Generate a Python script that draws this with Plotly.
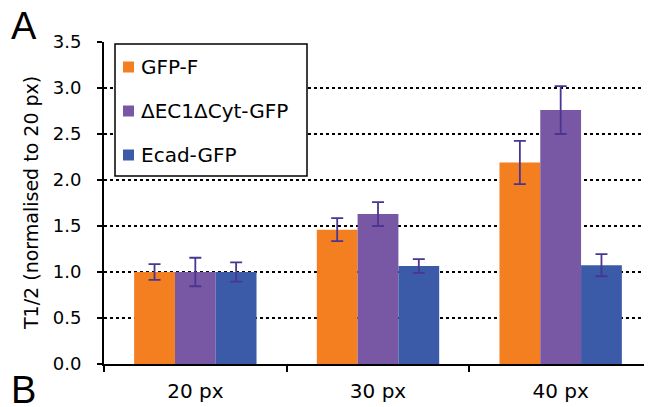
import plotly.graph_objects as go

categories = ["20 px", "30 px", "40 px"]
series_names = ["GFP-F", "ΔEC1ΔCyt-GFP", "Ecad-GFP"]
gfp_f = [1.00, 1.46, 2.19]
gfp_f_err = [0.085, 0.125, 0.235]
dec1 = [1.00, 1.63, 2.76]
dec1_err = [0.155, 0.13, 0.26]
ecad = [1.00, 1.066, 1.074]
ecad_err = [0.105, 0.075, 0.12]
colors = ["#F47F20", "#7857A4", "#3B5BA8"]
y_ticks = [0.0, 0.5, 1.0, 1.5, 2.0, 2.5, 3.0, 3.5]

FONT = "DejaVu Sans, Arial, sans-serif"
FONT_LETTER = "Liberation Sans, Arial, sans-serif"
ERR_COLOR = "#4A3690"

fig = go.Figure()
for name, vals, errs, col in zip(series_names, [gfp_f, dec1, ecad],
                                 [gfp_f_err, dec1_err, ecad_err], colors):
    fig.add_trace(go.Bar(
        x=categories, y=vals, name=name, showlegend=False,
        marker=dict(color=col, line=dict(width=0)),
        error_y=dict(type="data", array=errs, visible=True, color=ERR_COLOR,
                     thickness=1.8, width=6),
    ))

# page has an 8px body margin, so figure is offset by 8px
W, H = 644, 399
L, R, T, B = 96, 0, 34, 43
PW, PH = 548, 322   # plot size in px
PX0, PY0 = 104, 364  # plot left / bottom in page px


def px(x):
    return (x - PX0) / PW


def py(y):
    return (PY0 - y) / PH


shapes = [
    dict(type="rect", xref="paper", yref="paper", layer="above",
         x0=px(115), x1=px(307), y0=py(176), y1=py(44),
         line=dict(color="black", width=1.5), fillcolor="white"),
]
annotations = []
row_y = [67, 111, 155]
for name, col, yy in zip(series_names, colors, row_y):
    shapes.append(dict(type="rect", xref="paper", yref="paper", layer="above",
                       x0=px(123), x1=px(134), y0=py(yy + 5.5), y1=py(yy - 5.5),
                       line=dict(width=0), fillcolor=col))
    annotations.append(dict(text=name, x=px(139), y=py(yy), xref="paper", yref="paper",
                            xanchor="left", yanchor="middle", showarrow=False,
                            font=dict(size=20, family=FONT, color="black")))

annotations += [
    dict(text="T1/2 (normalised to 20 px)", textangle=-90, x=px(31), y=py(203),
         xref="paper", yref="paper", xanchor="center", yanchor="middle", showarrow=False,
         font=dict(size=19, family=FONT, color="black")),
    dict(text="A", x=px(24), y=py(26), xref="paper", yref="paper",
         xanchor="center", yanchor="middle", showarrow=False,
         font=dict(size=38, family=FONT_LETTER, color="black")),
    dict(text="B", x=px(23.5), y=py(390), xref="paper", yref="paper",
         xanchor="center", yanchor="middle", showarrow=False,
         font=dict(size=38, family=FONT_LETTER, color="black")),
]

fig.update_layout(
    width=W, height=H,
    margin=dict(l=L, r=R, t=T, b=B, autoexpand=False),
    paper_bgcolor="white", plot_bgcolor="white",
    barmode="group", bargap=0.33, bargroupgap=0,
    font=dict(family=FONT, size=18, color="black"),
    showlegend=False,
    xaxis=dict(
        showline=True, linecolor="black", linewidth=2,
        ticks="outside", ticklen=6, tickcolor="black", tickwidth=1.5,
        tickson="boundaries", showgrid=False,
        tickfont=dict(size=20, family=FONT, color="black"),
        ticklabelstandoff=8,
    ),
    yaxis=dict(
        range=[0, 3.5], tickvals=y_ticks, tickformat=".1f",
        showline=True, linecolor="black", linewidth=2,
        ticks="outside", ticklen=5, tickcolor="black", tickwidth=1.5,
        showgrid=True, gridcolor="black", griddash="dot", gridwidth=1.8,
        zeroline=False,
        tickfont=dict(size=18, family=FONT, color="black"),
        ticklabelstandoff=12,
    ),
    shapes=shapes,
    annotations=annotations,
)

fig.write_html("out.html")
